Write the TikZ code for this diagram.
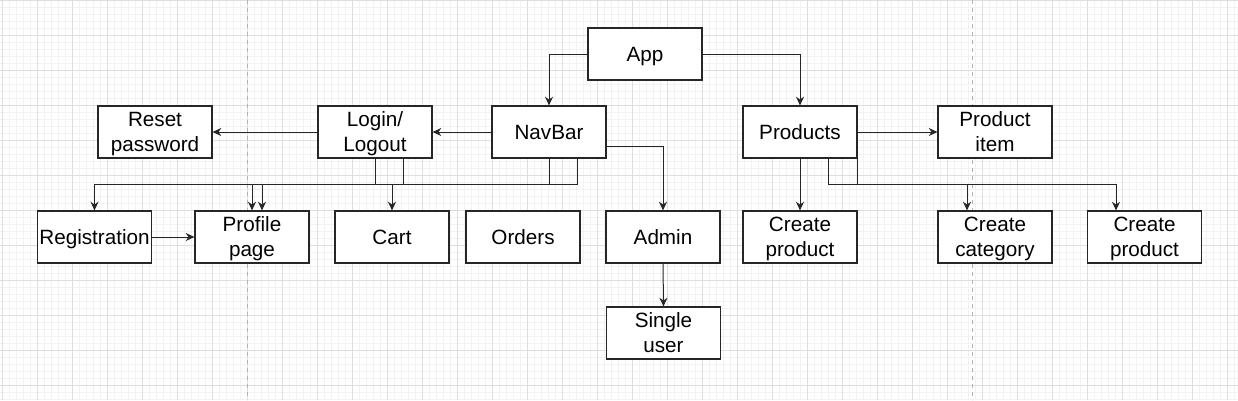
\documentclass[tikz,border=0pt]{standalone}
\usepackage{fontspec}
\setmainfont{Liberation Sans}
\usetikzlibrary{arrows.meta,calc}
\newcommand{\twolines}[2]{\rule{0pt}{0.905em}#1\\#2\rule[-0.212em]{0pt}{0pt}}
\begin{document}
\begin{tikzpicture}[x=0.75pt,y=-0.75pt,
  box/.style={draw=black!85, line width=0.9pt, fill=white, minimum width=85.5pt, minimum height=39pt, inner sep=0pt, align=center, font=\fontsize{15.5pt}{18.75pt}\selectfont,
    execute at begin node={\rule{0pt}{0.905em}}, execute at end node={\rule[-0.212em]{0pt}{0pt}}},
  conn/.style={draw=black!85, line width=0.75pt, -{Stealth[length=6.5pt,width=6pt]}},
  gridminor/.style={draw=black!5, line width=0.5pt},
  gridmajor/.style={draw=black!13, line width=0.6pt},
  pagebreak/.style={draw=black!30, line width=0.75pt, dashed}]
% background sheet
\useasboundingbox (0,0) rectangle (1238,400);
\fill[white] (0,0) rectangle (1238,400);
\foreach \x in {2.3,9.3,...,1238} \draw[gridminor] (\x,0) -- (\x,400);
\foreach \y in {0,7,...,400} \draw[gridminor] (0,\y) -- (1238,\y);
\foreach \x in {2.3,37.3,...,1238} \draw[gridmajor] (\x,0) -- (\x,400);
\foreach \y in {0,35,...,400} \draw[gridmajor] (0,\y) -- (1238,\y);
\foreach \x in {247.5,972} \draw[pagebreak] (\x,0) -- (\x,400);

% boxes
\node[box] (App) at (645,54) {App};
\node[box] (Reset) at (155,132) {\twolines{Reset}{password}};
\node[box] (Login) at (375,132) {\twolines{Login/}{Logout}};
\node[box] (NavBar) at (549,132) {NavBar};
\node[box] (Products) at (800,132) {Products};
\node[box] (Item) at (995,132) {\twolines{Product}{item}};
\node[box] (Reg) at (94.5,237) {Registration};
\node[box] (Profile) at (252,237) {\twolines{Profile}{page}};
\node[box] (Cart) at (392,237) {Cart};
\node[box] (Orders) at (523,237) {Orders};
\node[box] (Admin) at (663,237) {Admin};
\node[box] (Single) at (663.5,333) {\twolines{Single}{user}};
\node[box] (CreateProd) at (800,237) {\twolines{Create}{product}};
\node[box] (CreateCat) at (995,237) {\twolines{Create}{category}};
\node[box] (CreateProdB) at (1144.5,237) {\twolines{Create}{product}};

\coordinate (bus) at (0,184); % the shared row of wires
\coordinate (LoginR) at ($(Login.south)+(28,0)$);
\coordinate (NavBarR) at ($(NavBar.south)+(28.5,0)$);
\coordinate (ProfileR) at ($(Profile.north)+(10,0)$);
\coordinate (ProductsR) at ($(Products.south)+(28.5,0)$);
\coordinate (CreateCatL) at ($(CreateCat.north)+(-28,0)$);
\coordinate (CreateProdBL) at ($(CreateProdB.north)+(-28.5,0)$);
\coordinate (NavBarE) at ($(NavBar.east)+(0,14)$);

% connectors
\draw[conn] (App.west) -| (NavBar.north);
\draw[conn] (App.east) -| (Products.north);
\draw[conn] (NavBar.west) -- (Login.east);
\draw[conn] (Login.west) -- (Reset.east);
\draw[conn] (NavBarE) -| (Admin.north);
\draw[conn] (Admin.south) -- (Single.north);
\draw[conn] (Reg.east) -- (Profile.west);
\draw[conn] (Login.south) |- (bus -| Reg.north) -- (Reg.north);
\draw[conn] (LoginR) |- (bus -| ProfileR) -- (ProfileR);
\draw[conn] (NavBar.south) |- (bus -| Profile.north) -- (Profile.north);
\draw[conn] (NavBarR) |- (bus -| Cart.north) -- (Cart.north);
\draw[conn] (Products.east) -- (Item.west);
\draw[conn] (Products.south) -- (CreateProd.north);
\draw[conn] (ProductsR) |- (bus -| CreateCatL) -- (CreateCatL);
\draw[conn] (Products.south east) |- (bus -| CreateProdBL) -- (CreateProdBL);
\end{tikzpicture}
\end{document}
